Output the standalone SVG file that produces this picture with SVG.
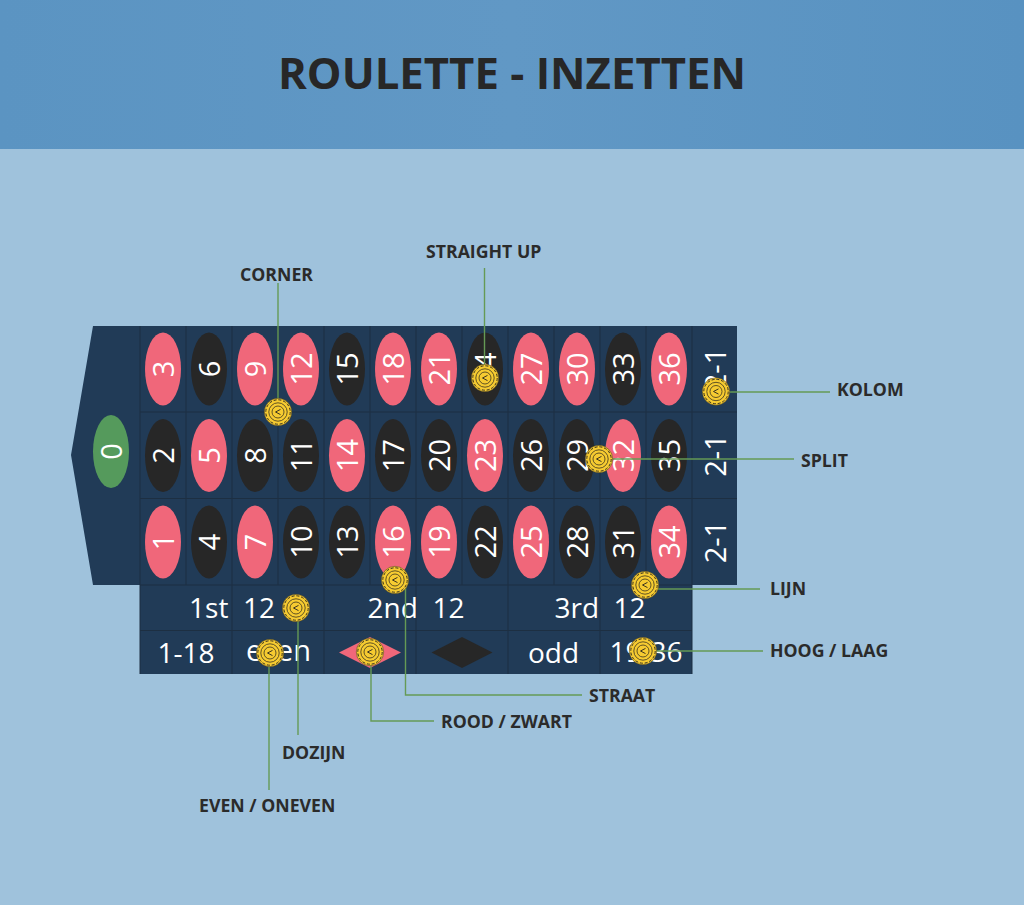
<svg xmlns="http://www.w3.org/2000/svg" xmlns:xlink="http://www.w3.org/1999/xlink" width="1024" height="905" viewBox="0 0 1024 905">
<style>
text{font-family:"Open Sans","Noto Sans","Liberation Sans",sans-serif}
.n{fill:#fff;font-size:29px;text-anchor:middle}
.b{fill:#fff;font-size:28px;text-anchor:middle}
.l{fill:#2b2b2b;font-size:17.700px;font-weight:700}
.r{fill:#f0677a}.k{fill:#272727}
.g{stroke:#1d2f42;stroke-width:1;fill:none}
.c{stroke:#659a55;stroke-width:1.400;fill:none}
</style>
<defs>
<linearGradient id="hd" x1="0" y1="0" x2="1" y2="0"><stop offset="0" stop-color="#5b94c2"/><stop offset="0.5" stop-color="#6198c5"/><stop offset="1" stop-color="#5892c1"/></linearGradient>
<g id="chip">
<circle r="13.700" fill="#f6cb31" stroke="#3a3320" stroke-width="0.500"/>
<circle r="12.200" fill="none" stroke="#3a3320" stroke-width="1" stroke-dasharray="3 1.790"/>
<circle r="9.200" fill="none" stroke="#3a3320" stroke-width="0.800"/>
<circle r="6" fill="none" stroke="#3a3320" stroke-width="0.800"/>
<path d="M2.500-2.600L-2.500 0L2.500 2.600" fill="none" stroke="#3a3320" stroke-width="1"/>
</g>
</defs>
<rect width="1024" height="905" fill="#9fc2dc"/>
<rect id="header" width="1024" height="149" fill="url(#hd)"/>
<text x="512" y="88.500" text-anchor="middle" font-size="43.700" font-weight="700" fill="#272727">ROULETTE - INZETTEN</text>

<g id="table">
<path d="M93 326H737V585H692V674H140V585H93L71 455Z" fill="#213b57"/>
<path class="g" d="M140 326V674M186 326V585M232 326V674M278 326V585M324 326V674M370 326V585M416 326V674M462 326V585M508 326V674M554 326V585M600 326V674M646 326V585M692 326V674M140 412H737M140 498.500H737M140 585H692M140 630.500H692"/>
</g>

<g id="zero"><ellipse cx="111" cy="451.500" rx="18" ry="36.500" fill="#559a5c"/><text class="n" transform="translate(121.500 451.500) rotate(-90)">0</text></g>

<g id="numbers">
<g id="n3"><ellipse class="r" cx="163" cy="369" rx="18" ry="36.500"/><text class="n" transform="translate(173.500 369) rotate(-90)">3</text></g>
<g id="n6"><ellipse class="k" cx="209" cy="369" rx="18" ry="36.500"/><text class="n" transform="translate(219.500 369) rotate(-90)">6</text></g>
<g id="n9"><ellipse class="r" cx="255" cy="369" rx="18" ry="36.500"/><text class="n" transform="translate(265.500 369) rotate(-90)">9</text></g>
<g id="n12"><ellipse class="r" cx="301" cy="369" rx="18" ry="36.500"/><text class="n" transform="translate(311.500 369) rotate(-90)">12</text></g>
<g id="n15"><ellipse class="k" cx="347" cy="369" rx="18" ry="36.500"/><text class="n" transform="translate(357.500 369) rotate(-90)">15</text></g>
<g id="n18"><ellipse class="r" cx="393" cy="369" rx="18" ry="36.500"/><text class="n" transform="translate(403.500 369) rotate(-90)">18</text></g>
<g id="n21"><ellipse class="r" cx="439" cy="369" rx="18" ry="36.500"/><text class="n" transform="translate(449.500 369) rotate(-90)">21</text></g>
<g id="n24"><ellipse class="k" cx="485" cy="369" rx="18" ry="36.500"/><text class="n" transform="translate(495.500 369) rotate(-90)">24</text></g>
<g id="n27"><ellipse class="r" cx="531" cy="369" rx="18" ry="36.500"/><text class="n" transform="translate(541.500 369) rotate(-90)">27</text></g>
<g id="n30"><ellipse class="r" cx="577" cy="369" rx="18" ry="36.500"/><text class="n" transform="translate(587.500 369) rotate(-90)">30</text></g>
<g id="n33"><ellipse class="k" cx="623" cy="369" rx="18" ry="36.500"/><text class="n" transform="translate(633.500 369) rotate(-90)">33</text></g>
<g id="n36"><ellipse class="r" cx="669" cy="369" rx="18" ry="36.500"/><text class="n" transform="translate(679.500 369) rotate(-90)">36</text></g>

<g id="n2"><ellipse class="k" cx="163" cy="455.500" rx="18" ry="36.500"/><text class="n" transform="translate(173.500 455.500) rotate(-90)">2</text></g>
<g id="n5"><ellipse class="r" cx="209" cy="455.500" rx="18" ry="36.500"/><text class="n" transform="translate(219.500 455.500) rotate(-90)">5</text></g>
<g id="n8"><ellipse class="k" cx="255" cy="455.500" rx="18" ry="36.500"/><text class="n" transform="translate(265.500 455.500) rotate(-90)">8</text></g>
<g id="n11"><ellipse class="k" cx="301" cy="455.500" rx="18" ry="36.500"/><text class="n" transform="translate(311.500 455.500) rotate(-90)">11</text></g>
<g id="n14"><ellipse class="r" cx="347" cy="455.500" rx="18" ry="36.500"/><text class="n" transform="translate(357.500 455.500) rotate(-90)">14</text></g>
<g id="n17"><ellipse class="k" cx="393" cy="455.500" rx="18" ry="36.500"/><text class="n" transform="translate(403.500 455.500) rotate(-90)">17</text></g>
<g id="n20"><ellipse class="k" cx="439" cy="455.500" rx="18" ry="36.500"/><text class="n" transform="translate(449.500 455.500) rotate(-90)">20</text></g>
<g id="n23"><ellipse class="r" cx="485" cy="455.500" rx="18" ry="36.500"/><text class="n" transform="translate(495.500 455.500) rotate(-90)">23</text></g>
<g id="n26"><ellipse class="k" cx="531" cy="455.500" rx="18" ry="36.500"/><text class="n" transform="translate(541.500 455.500) rotate(-90)">26</text></g>
<g id="n29"><ellipse class="k" cx="577" cy="455.500" rx="18" ry="36.500"/><text class="n" transform="translate(587.500 455.500) rotate(-90)">29</text></g>
<g id="n32"><ellipse class="r" cx="623" cy="455.500" rx="18" ry="36.500"/><text class="n" transform="translate(633.500 455.500) rotate(-90)">32</text></g>
<g id="n35"><ellipse class="k" cx="669" cy="455.500" rx="18" ry="36.500"/><text class="n" transform="translate(679.500 455.500) rotate(-90)">35</text></g>

<g id="n1"><ellipse class="r" cx="163" cy="542" rx="18" ry="36.500"/><text class="n" transform="translate(173.500 542) rotate(-90)">1</text></g>
<g id="n4"><ellipse class="k" cx="209" cy="542" rx="18" ry="36.500"/><text class="n" transform="translate(219.500 542) rotate(-90)">4</text></g>
<g id="n7"><ellipse class="r" cx="255" cy="542" rx="18" ry="36.500"/><text class="n" transform="translate(265.500 542) rotate(-90)">7</text></g>
<g id="n10"><ellipse class="k" cx="301" cy="542" rx="18" ry="36.500"/><text class="n" transform="translate(311.500 542) rotate(-90)">10</text></g>
<g id="n13"><ellipse class="k" cx="347" cy="542" rx="18" ry="36.500"/><text class="n" transform="translate(357.500 542) rotate(-90)">13</text></g>
<g id="n16"><ellipse class="r" cx="393" cy="542" rx="18" ry="36.500"/><text class="n" transform="translate(403.500 542) rotate(-90)">16</text></g>
<g id="n19"><ellipse class="r" cx="439" cy="542" rx="18" ry="36.500"/><text class="n" transform="translate(449.500 542) rotate(-90)">19</text></g>
<g id="n22"><ellipse class="k" cx="485" cy="542" rx="18" ry="36.500"/><text class="n" transform="translate(495.500 542) rotate(-90)">22</text></g>
<g id="n25"><ellipse class="r" cx="531" cy="542" rx="18" ry="36.500"/><text class="n" transform="translate(541.500 542) rotate(-90)">25</text></g>
<g id="n28"><ellipse class="k" cx="577" cy="542" rx="18" ry="36.500"/><text class="n" transform="translate(587.500 542) rotate(-90)">28</text></g>
<g id="n31"><ellipse class="k" cx="623" cy="542" rx="18" ry="36.500"/><text class="n" transform="translate(633.500 542) rotate(-90)">31</text></g>
<g id="n34"><ellipse class="r" cx="669" cy="542" rx="18" ry="36.500"/><text class="n" transform="translate(679.500 542) rotate(-90)">34</text></g>
</g>

<g id="columns">
<text class="n" transform="translate(725.500 369) rotate(-90)">2-1</text>
<text class="n" transform="translate(725.500 455.500) rotate(-90)">2-1</text>
<text class="n" transform="translate(725.500 542) rotate(-90)">2-1</text>
</g>

<g id="outside">
<text class="b" x="232" y="618" xml:space="preserve">1st  12</text>
<text class="b" x="416" y="618" xml:space="preserve">2nd  12</text>
<text class="b" x="600" y="618" xml:space="preserve">3rd  12</text>
<text class="b" x="186" y="662.500">1-18</text>
<text class="b" x="278.500" y="661" style="font-size:29px">even</text>
<path class="r" d="M339 652.500L370 637L401 652.500L370 668Z"/>
<path class="k" d="M431.500 652.500L462 637L492.500 652.500L462 668Z"/>
<text class="b" x="553.500" y="663">odd</text>
<text class="b" x="646" y="662">19-36</text>
</g>

<g id="connectors">
<path class="c" d="M278 283V412"/>
<path class="c" d="M484.500 268V378"/>
<path class="c" d="M716 392H830"/>
<path class="c" d="M599 459H794"/>
<path class="c" d="M646 589H760"/>
<path class="c" d="M643 651H763"/>
<path class="c" d="M405.500 580V695H582"/>
<path class="c" d="M371 652V721H434"/>
<path class="c" d="M298 608V735"/>
<path class="c" d="M269 653V790"/>
</g>

<g id="chips">
<use id="chip-corner" xlink:href="#chip" href="#chip" x="278" y="412"/>
<use id="chip-straight" xlink:href="#chip" href="#chip" x="485" y="378"/>
<use id="chip-kolom" xlink:href="#chip" href="#chip" x="716" y="391.500"/>
<use id="chip-split" xlink:href="#chip" href="#chip" x="599" y="459"/>
<use id="chip-lijn" xlink:href="#chip" href="#chip" x="645" y="585"/>
<use id="chip-dozijn" xlink:href="#chip" href="#chip" x="296" y="608"/>
<use id="chip-straat" xlink:href="#chip" href="#chip" x="395" y="580"/>
<use id="chip-even" xlink:href="#chip" href="#chip" x="270" y="653"/>
<use id="chip-rood" xlink:href="#chip" href="#chip" x="370" y="652"/>
<use id="chip-hoog" xlink:href="#chip" href="#chip" x="643" y="651"/>
</g>

<g id="labels">
<text class="l" x="240" y="280.500">CORNER</text>
<text class="l" x="426" y="258">STRAIGHT UP</text>
<text class="l" x="837" y="396">KOLOM</text>
<text class="l" x="801" y="467">SPLIT</text>
<text class="l" x="770" y="595">LIJN</text>
<text class="l" x="770" y="656.500">HOOG / LAAG</text>
<text class="l" x="589" y="702">STRAAT</text>
<text class="l" x="441" y="727.500">ROOD / ZWART</text>
<text class="l" x="282" y="758.500">DOZIJN</text>
<text class="l" x="199" y="811.500">EVEN / ONEVEN</text>
</g>
</svg>
